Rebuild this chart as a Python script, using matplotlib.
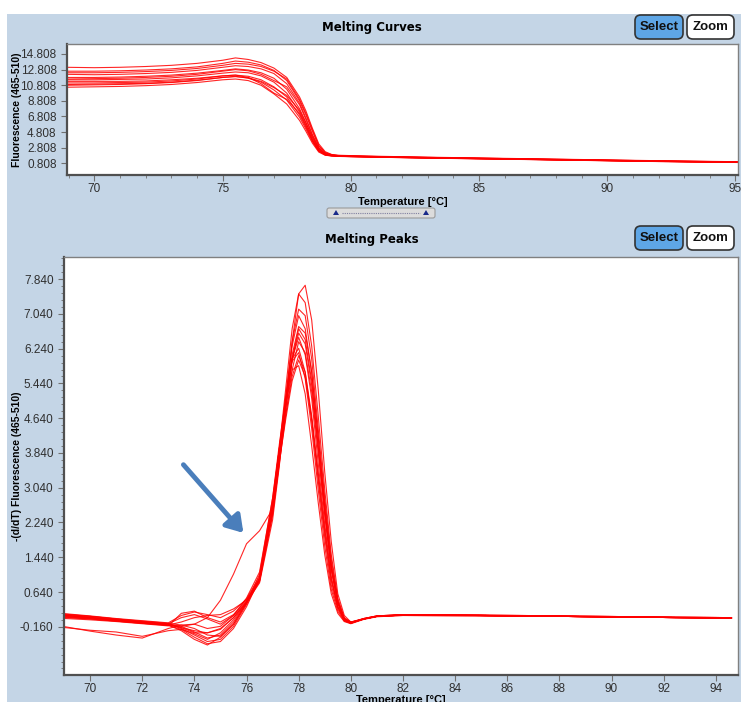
import numpy as np
import matplotlib.pyplot as plt
from matplotlib.patches import FancyBboxPatch, Rectangle, Polygon
from matplotlib.lines import Line2D
from matplotlib.ticker import FixedLocator, MultipleLocator

plt.rcParams['font.family'] = ['Liberation Sans', 'DejaVu Sans']

# ---- melting curves (top panel), fluorescence vs temperature
curve_temps = [68.9, 70, 71, 72, 73, 74, 75, 75.5, 76, 76.5, 77, 77.5, 78, 78.25,
               78.5, 78.75, 79, 79.25, 79.5, 80, 81, 83, 86, 89, 92, 95.1]
mc_01 = [13.1, 13.05, 13.1, 13.2, 13.35, 13.6, 14.0, 14.3, 14.1, 13.7, 13.0, 11.8, 9.3, 7.5,
         5.3, 3.3, 2.3, 1.95, 1.85, 1.8, 1.72, 1.6, 1.45, 1.3, 1.15, 1.02]
mc_02 = [12.6, 12.6, 12.65, 12.75, 12.9, 13.15, 13.6, 13.9, 13.75, 13.4, 12.7, 11.4, 8.8, 7.0,
         4.9, 3.0, 2.15, 1.9, 1.8, 1.75, 1.68, 1.57, 1.42, 1.28, 1.12, 1.0]
mc_03 = [12.2, 12.15, 12.2, 12.3, 12.45, 12.7, 13.1, 13.3, 13.2, 12.9, 12.3, 11.0, 8.5, 6.6,
         4.5, 2.8, 2.05, 1.85, 1.78, 1.73, 1.66, 1.55, 1.4, 1.25, 1.1, 0.98]
mc_04 = [11.8, 11.8, 11.85, 11.95, 12.1, 12.35, 12.7, 12.9, 12.75, 12.4, 11.7, 10.3, 7.8, 6.0,
         4.1, 2.6, 2.0, 1.82, 1.76, 1.72, 1.65, 1.53, 1.38, 1.24, 1.08, 0.96]
mc_05 = [11.5, 11.5, 11.55, 11.6, 11.75, 12.0, 12.35, 12.5, 12.4, 12.0, 11.2, 9.8, 7.4, 5.7,
         3.9, 2.5, 1.95, 1.8, 1.75, 1.7, 1.63, 1.52, 1.37, 1.22, 1.07, 0.95]
mc_06 = [11.1, 11.1, 11.15, 11.2, 11.35, 11.6, 12.0, 12.1, 11.95, 11.5, 10.6, 9.3, 7.0, 5.4,
         3.7, 2.4, 1.9, 1.78, 1.73, 1.68, 1.62, 1.5, 1.36, 1.21, 1.06, 0.94]
mc_07 = [10.8, 10.85, 10.9, 11.0, 11.15, 11.4, 11.8, 11.95, 11.7, 11.2, 10.2, 8.9, 6.7, 5.2,
         3.6, 2.35, 1.88, 1.76, 1.72, 1.67, 1.6, 1.49, 1.35, 1.2, 1.05, 0.93]
mc_08 = [10.55, 10.6, 10.65, 10.75, 10.9, 11.15, 11.5, 11.6, 11.4, 10.8, 9.7, 8.4, 6.3, 4.9,
         3.4, 2.25, 1.85, 1.75, 1.7, 1.66, 1.6, 1.48, 1.34, 1.19, 1.04, 0.92]
mc_09 = [11.3, 11.3, 11.3, 11.35, 11.5, 11.7, 12.0, 12.1, 11.8, 11.0, 9.8, 9.0, 7.2, 5.6,
         3.8, 2.45, 1.92, 1.8, 1.74, 1.69, 1.62, 1.51, 1.37, 1.22, 1.07, 0.95]
mc_10 = [12.4, 12.4, 12.45, 12.55, 12.7, 12.95, 13.35, 13.6, 13.5, 13.2, 12.6, 11.6, 9.0, 7.2,
         5.1, 3.1, 2.2, 1.92, 1.82, 1.76, 1.69, 1.57, 1.42, 1.27, 1.12, 0.99]
mc_11 = [10.9, 10.95, 11.0, 11.05, 11.2, 11.45, 11.8, 11.9, 11.75, 11.3, 10.5, 9.5, 7.6, 6.0,
         4.2, 2.7, 2.0, 1.82, 1.76, 1.71, 1.64, 1.52, 1.38, 1.23, 1.08, 0.96]
mc_12 = [11.6, 11.65, 11.7, 11.8, 11.95, 12.2, 12.6, 12.8, 12.65, 12.2, 11.4, 10.6, 8.3, 6.4,
         4.4, 2.75, 2.02, 1.84, 1.77, 1.72, 1.65, 1.54, 1.39, 1.24, 1.09, 0.97]
melting_curves = [mc_01, mc_02, mc_03, mc_04, mc_05, mc_06, mc_07, mc_08, mc_09, mc_10, mc_11, mc_12]

# ---- melting peaks (bottom panel), -(d/dT) fluorescence
peak_temps = [69.05, 70, 71, 72, 73, 73.5, 74, 74.5, 75, 75.5, 76, 76.5, 77, 77.25, 77.5, 77.75,
              78, 78.25, 78.5, 78.75, 79, 79.25, 79.5, 79.75, 80, 80.5, 81, 82, 85, 88, 91, 94.6]
mp_01 = [0.10, 0.06, 0.00, -0.05, -0.10, -0.18, -0.25, -0.30, -0.22, 0.05, 0.40, 0.85, 2.3, 3.5, 4.9, 6.4,
         7.5, 7.7, 6.9, 5.3, 3.4, 1.8, 0.6, 0.1, -0.05, 0.02, 0.08, 0.12, 0.11, 0.09, 0.07, 0.05]
mp_02 = [0.12, 0.08, 0.02, -0.03, -0.08, -0.12, -0.2, -0.35, -0.38, -0.1, 0.38, 0.95, 2.6, 3.9, 5.3, 6.7,
         7.5, 7.3, 6.3, 4.7, 3.0, 1.5, 0.5, 0.05, -0.05, 0.03, 0.09, 0.12, 0.1, 0.09, 0.07, 0.05]
mp_03 = [0.05, 0.02, -0.03, -0.08, -0.12, -0.05, 0.05, 0.10, 0.12, 0.25, 0.45, 0.9, 2.5, 3.7, 5.1, 6.4,
         7.15, 7.0, 6.0, 4.4, 2.8, 1.4, 0.45, 0.03, -0.06, 0.02, 0.08, 0.11, 0.1, 0.08, 0.06, 0.04]
mp_04 = [0.14, 0.09, 0.03, -0.02, -0.07, 0.1, 0.18, 0.12, 0.05, 0.2, 0.48, 1.0, 2.7, 3.9, 5.1, 6.3,
         7.0, 6.7, 5.7, 4.2, 2.6, 1.2, 0.4, 0.0, -0.08, 0.03, 0.09, 0.12, 0.11, 0.09, 0.07, 0.05]
mp_05 = [0.08, 0.04, 0.0, -0.06, -0.1, -0.2, -0.35, -0.5, -0.45, -0.15, 0.35, 0.9, 2.5, 3.7, 4.9, 6.0,
         6.7, 6.45, 5.5, 4.0, 2.5, 1.2, 0.4, 0.02, -0.06, 0.02, 0.08, 0.11, 0.1, 0.08, 0.06, 0.04]
mp_06 = [0.1, 0.05, -0.01, -0.06, -0.1, -0.15, -0.28, -0.42, -0.35, -0.05, 0.4, 0.95, 2.6, 3.8, 4.9, 6.0,
         6.5, 6.1, 5.1, 3.6, 2.2, 1.0, 0.3, 0.0, -0.07, 0.02, 0.08, 0.11, 0.1, 0.08, 0.06, 0.04]
mp_07 = [0.13, 0.08, 0.02, -0.04, -0.09, 0.05, 0.12, 0.02, -0.1, 0.1, 0.5, 1.1, 2.8, 4.0, 5.1, 6.0,
         6.25, 5.7, 4.6, 3.2, 1.9, 0.8, 0.25, -0.02, -0.08, 0.02, 0.08, 0.11, 0.1, 0.08, 0.06, 0.04]
mp_08 = [0.06, 0.02, -0.03, -0.08, -0.13, -0.22, -0.4, -0.55, -0.5, -0.2, 0.3, 0.95, 2.7, 3.9, 5.0, 5.95,
         6.15, 5.55, 4.4, 3.0, 1.7, 0.7, 0.2, -0.03, -0.08, 0.02, 0.08, 0.1, 0.09, 0.08, 0.06, 0.04]
mp_09 = [0.11, 0.06, 0.0, -0.05, -0.1, -0.18, -0.3, -0.3, -0.2, 0.05, 0.42, 0.92, 2.5, 3.6, 4.6, 5.5,
         5.98, 5.6, 4.6, 3.3, 2.0, 0.9, 0.3, 0.0, -0.07, 0.02, 0.08, 0.11, 0.1, 0.08, 0.06, 0.04]
mp_10 = [0.03, 0.0, -0.04, -0.09, -0.14, 0.15, 0.2, 0.05, -0.05, 0.12, 0.46, 0.95, 2.45, 3.55, 4.7, 5.75,
         6.4, 6.15, 5.25, 3.85, 2.4, 1.15, 0.38, 0.02, -0.06, 0.03, 0.09, 0.12, 0.1, 0.08, 0.06, 0.04]
mp_11 = [0.09, 0.05, -0.01, -0.07, -0.12, -0.25, -0.45, -0.58, -0.4, -0.1, 0.38, 1.05, 2.8, 3.9, 4.9, 5.75,
         5.85, 5.2, 4.0, 2.7, 1.5, 0.6, 0.15, -0.04, -0.09, 0.01, 0.07, 0.1, 0.09, 0.08, 0.06, 0.04]
mp_12 = [-0.16, -0.26, -0.35, -0.42, -0.2, -0.12, -0.1, -0.2, -0.15, 0.1, 0.42, 0.88, 2.4, 3.6, 4.9, 6.1,
         6.75, 6.6, 5.7, 4.2, 2.7, 1.3, 0.42, 0.03, -0.06, 0.02, 0.08, 0.11, 0.1, 0.08, 0.06, 0.04]
mp_13 = [-0.18, -0.24, -0.28, -0.38, -0.25, -0.22, -0.32, -0.45, -0.3, 0.0, 0.4, 0.95, 2.55, 3.65, 4.7, 5.6,
         6.08, 5.7, 4.7, 3.4, 2.1, 0.95, 0.3, 0.0, -0.07, 0.02, 0.08, 0.11, 0.1, 0.08, 0.06, 0.04]
# the curve with the shoulder (marked by the arrow)
mp_14 = [0.07, 0.03, -0.02, -0.07, -0.12, -0.15, -0.1, 0.05, 0.45, 1.05, 1.75, 2.05, 2.55, 3.7, 4.9, 6.0,
         6.6, 6.35, 5.4, 3.95, 2.5, 1.2, 0.4, 0.02, -0.06, 0.02, 0.08, 0.11, 0.1, 0.08, 0.06, 0.04]
melting_peaks = [mp_01, mp_02, mp_03, mp_04, mp_05, mp_06, mp_07, mp_08, mp_09, mp_10,
                 mp_11, mp_12, mp_13, mp_14]

top_yticks = [0.808, 2.808, 4.808, 6.808, 8.808, 10.808, 12.808, 14.808]
bot_yticks = [-0.16, 0.64, 1.44, 2.24, 3.04, 3.84, 4.64, 5.44, 6.24, 7.04, 7.84]

W, H = 741, 702
def fx(px):
    return px / W
def fy(py):
    return 1 - py / H

bg = '#c4d5e6'
fig = plt.figure(figsize=(7.41, 7.02), dpi=100)
fig.patch.set_facecolor(bg)
fig.patches.append(Rectangle((0, fy(14)), 1, 14 / H, transform=fig.transFigure,
                             facecolor='white', edgecolor='none', zorder=0))
fig.patches.append(Rectangle((0, 0), fx(7), 1, transform=fig.transFigure,
                             facecolor='white', edgecolor='none', zorder=0))

ax1 = fig.add_axes([fx(67), fy(175), fx(738) - fx(67), fy(44) - fy(175)])
ax2 = fig.add_axes([fx(64), fy(675), fx(738) - fx(64), fy(257) - fy(675)])

for c in melting_curves:
    ax1.plot(curve_temps, c, color='#ff0000', lw=0.8, alpha=0.85)
for c in melting_peaks:
    ax2.plot(peak_temps, c, color='#ff0000', lw=0.8, alpha=0.85)

def style(ax):
    ax.set_facecolor('white')
    for s in ['left', 'bottom']:
        ax.spines[s].set_color('#505050')
        ax.spines[s].set_linewidth(1.6)
    for s in ['top', 'right']:
        ax.spines[s].set_color('#808080')
        ax.spines[s].set_linewidth(1.0)
    ax.tick_params(which='both', direction='out', colors='#707070', labelcolor='#303030',
                   labelsize=8.5)
    ax.tick_params(which='major', length=4)
    ax.tick_params(which='minor', length=2)

style(ax1)
ax1.set_xlim(68.93, 95.1)
ax1.set_ylim(-0.68, 16.08)
ax1.set_xticks([70, 75, 80, 85, 90, 95])
ax1.xaxis.set_minor_locator(MultipleLocator(1))
ax1.yaxis.set_major_locator(FixedLocator(top_yticks))
ax1.set_yticklabels([f'{v:.3f}' for v in top_yticks])
ax1.tick_params(axis='x', pad=2)
ax1.set_xlabel('Temperature [°C]', fontsize=8, fontweight='bold', labelpad=1)
ax1.set_ylabel('Fluorescence (465-510)', fontsize=7.5, fontweight='bold', va='center')
ax1.yaxis.set_label_coords(-0.074, 0.5)

style(ax2)
ax2.set_xlim(69.0, 94.85)
ax2.set_ylim(-1.27, 8.35)
ax2.set_xticks(list(range(70, 95, 2)))
ax2.yaxis.set_major_locator(FixedLocator(bot_yticks))
ax2.yaxis.set_minor_locator(MultipleLocator(0.16))
ax2.set_yticklabels([f'{v:.3f}' for v in bot_yticks])
ax2.tick_params(axis='x', pad=2)
ax2.set_xlabel('Temperature [°C]', fontsize=8, fontweight='bold', labelpad=0)
ax2.set_ylabel('-(d/dT) Fluorescence (465-510)', fontsize=7.5, fontweight='bold', va='center')
ax2.yaxis.set_label_coords(-0.070, 0.5)

# arrow pointing at the shoulder
ax2.annotate('', xy=(75.88, 2.0), xytext=(73.58, 3.57),
             arrowprops=dict(arrowstyle='-|>,head_width=0.45,head_length=0.7',
                             color='#4a7ebb', lw=3.5, shrinkA=0, shrinkB=0,
                             mutation_scale=14))

# panel titles
fig.text(fx(372), fy(28), 'Melting Curves', fontsize=8.5, fontweight='bold',
         ha='center', va='center', family='DejaVu Sans')
fig.text(fx(372), fy(240), 'Melting Peaks', fontsize=8.5, fontweight='bold',
         ha='center', va='center', family='DejaVu Sans')

def button(x0, y0, x1, y1, label, face):
    box = FancyBboxPatch((fx(x0), fy(y1)), fx(x1) - fx(x0), fy(y0) - fy(y1),
                         boxstyle='round,pad=0,rounding_size=0.008',
                         transform=fig.transFigure, facecolor=face,
                         edgecolor='#333333', linewidth=1.2)
    fig.patches.append(box)
    fig.text((fx(x0) + fx(x1)) / 2, (fy(y0) + fy(y1)) / 2, label, ha='center',
             va='center', fontsize=9.5, fontweight='bold', color='#111111')

button(635, 15, 683, 39, 'Select', '#5ea6e6')
button(687, 15, 734, 39, 'Zoom', 'white')
button(635, 226, 683, 250, 'Select', '#5ea6e6')
button(687, 226, 734, 250, 'Zoom', 'white')

# splitter handle between the panels
fig.patches.append(FancyBboxPatch((fx(327), fy(218)), fx(435) - fx(327), fy(208) - fy(218),
                                  boxstyle='round,pad=0,rounding_size=0.003',
                                  transform=fig.transFigure, facecolor='#dcdcdc',
                                  edgecolor='#9a9a9a', linewidth=0.8))
for xc in [336, 426]:
    fig.patches.append(Polygon([[fx(xc - 3), fy(215)], [fx(xc + 3), fy(215)], [fx(xc), fy(210)]],
                               closed=True, transform=fig.transFigure,
                               facecolor='#1a2a8a', edgecolor='none'))
fig.add_artist(Line2D([fx(342), fx(420)], [fy(213), fy(213)], transform=fig.transFigure,
                      linestyle=(0, (1, 1)), color='#8080a0', lw=0.8))

fig.savefig('out.png', dpi=100, facecolor=fig.get_facecolor())
